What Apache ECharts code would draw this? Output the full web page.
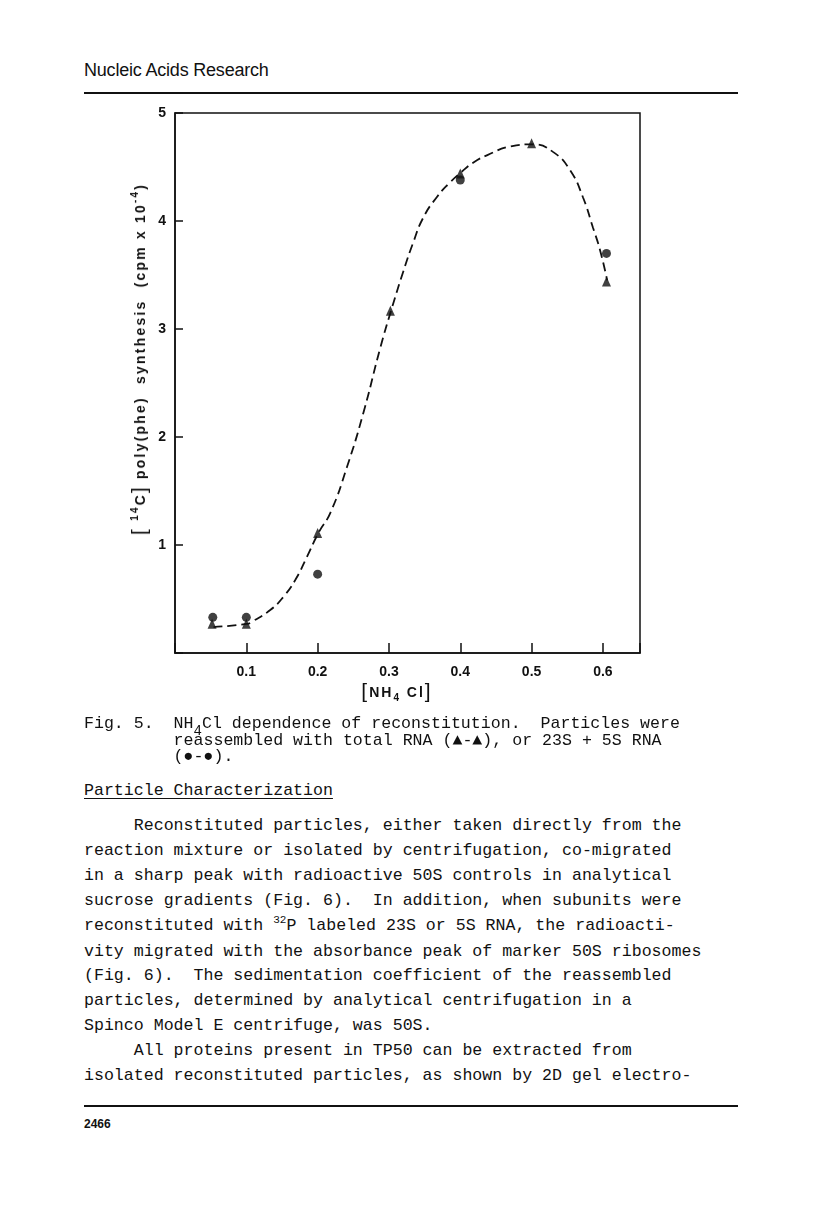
<!DOCTYPE html>
<html>
<head>
<meta charset="utf-8">
<script src="https://cdn.jsdelivr.net/npm/echarts@6/dist/echarts.min.js"></script>
<style>
html,body{margin:0;padding:0;background:#fff;}
#page{position:relative;width:816px;height:1219px;overflow:hidden;background:#fff;}
#chart{position:absolute;left:0;top:0;width:816px;height:760px;}
.t{position:absolute;color:#111;}
.hdr{left:84px;top:60px;font-family:"Liberation Sans",Arial,sans-serif;font-size:18px;letter-spacing:-0.2px;}
.rule{position:absolute;left:84px;width:654px;height:2px;background:#111;}
.mono{font-family:"Liberation Mono","DejaVu Sans Mono",monospace;font-size:16.6px;white-space:pre;}
.cap{left:84px;top:716px;line-height:16.5px;}
.sec{left:84px;top:781px;line-height:20px;text-decoration:underline;text-underline-offset:3px;}
.body{left:84px;top:814px;line-height:24.9px;}
.pg{left:84px;top:1117px;font-family:"Liberation Sans",Arial,sans-serif;font-size:12px;font-weight:bold;}
.sub4{position:relative;top:7px;font-size:14px;}
sup{font-size:11px;vertical-align:0;position:relative;top:-7px;}
.ax{position:absolute;font-family:"Liberation Sans",Arial,sans-serif;font-weight:bold;font-size:14px;color:#111;white-space:pre;line-height:20px;}
.ax .br{font-weight:normal;font-size:21px;position:relative;top:1px;}
.ax .up{font-size:10px;position:relative;top:-7px;}
.ax .dn{font-size:10px;position:relative;top:4px;}
#ytitle{left:140px;top:359px;transform:translate(-50%,-50%) rotate(-90deg);letter-spacing:2.2px;}
#xtitle{left:397px;top:692px;transform:translate(-50%,-50%);letter-spacing:2px;}
</style>
</head>
<body>
<div id="page">
<div class="t hdr">Nucleic Acids Research</div>
<div class="rule" style="top:92px;"></div>
<div id="chart"></div>
<div class="ax" id="ytitle"><span class="br">[</span> <span class="up">14</span>C<span class="br">]</span> poly(phe)  synthesis  (cpm x 10<span class="up">-4</span>)</div>
<div class="ax" id="xtitle"><span class="br">[</span>NH<span class="dn">4</span> Cl<span class="br">]</span></div>
<div class="t mono cap">Fig. 5.  NH<span class="sub4">4</span>Cl dependence of reconstitution.  Particles were
         reassembled with total RNA (▲-▲), or 23S + 5S RNA
         (●-●).</div>
<div class="t mono sec">Particle Characterization</div>
<div class="t mono body">     Reconstituted particles, either taken directly from the
reaction mixture or isolated by centrifugation, co-migrated
in a sharp peak with radioactive 50S controls in analytical
sucrose gradients (Fig. 6).  In addition, when subunits were
reconstituted with <sup>32</sup>P labeled 23S or 5S RNA, the radioacti-
vity migrated with the absorbance peak of marker 50S ribosomes
(Fig. 6).  The sedimentation coefficient of the reassembled
particles, determined by analytical centrifugation in a
Spinco Model E centrifuge, was 50S.
     All proteins present in TP50 can be extracted from
isolated reconstituted particles, as shown by 2D gel electro-</div>
<div class="rule" style="top:1105px;"></div>
<div class="t pg">2466</div>
</div>
<script>
// NH4Cl concentration (x) and poly(phe) synthesis (cpm x 10^-4)
const triX = [0.052, 0.100, 0.200, 0.302, 0.400, 0.500, 0.605];
const triY = [0.27, 0.27, 1.11, 3.17, 4.44, 4.72, 3.44];
const cirX = [0.053, 0.100, 0.200, 0.400, 0.605];
const cirY = [0.33, 0.33, 0.73, 4.38, 3.70];
// hand-drawn dashed fit curve
const curveX = [0.054, 0.101, 0.108, 0.134, 0.152, 0.169, 0.185, 0.201, 0.218, 0.241, 0.264, 0.288, 0.303, 0.320, 0.334, 0.348, 0.367, 0.386, 0.401, 0.418, 0.438, 0.470, 0.502, 0.530, 0.554, 0.572, 0.586, 0.596, 0.606];
const curveY = [0.24, 0.27, 0.29, 0.40, 0.52, 0.68, 0.89, 1.11, 1.30, 1.72, 2.22, 2.83, 3.17, 3.53, 3.80, 4.03, 4.22, 4.36, 4.45, 4.54, 4.61, 4.69, 4.71, 4.64, 4.47, 4.22, 3.94, 3.73, 3.45];
const xTicks = ['0.1', '0.2', '0.3', '0.4', '0.5', '0.6'];
const yTicks = ['1', '2', '3', '4', '5'];

const zip = (a, b) => a.map((v, i) => [v, b[i]]);
const chart = echarts.init(document.getElementById('chart'), null, {renderer: 'canvas'});
const tickFont = {color: '#111', fontFamily: '"Liberation Sans", Arial, sans-serif', fontSize: 14, fontWeight: 'bold'};
chart.setOption({
  animation: false,
  grid: {left: 175, top: 113, width: 465, height: 540, show: true, borderColor: '#111', borderWidth: 1.5, backgroundColor: 'transparent'},
  xAxis: {
    type: 'value', min: 0, max: 0.652, interval: 0.1,
    axisLine: {show: true, onZero: false, lineStyle: {color: '#111', width: 1.5}},
    axisTick: {show: true, inside: true, length: 10, lineStyle: {color: '#111', width: 1.5}},
    splitLine: {show: false},
    axisLabel: Object.assign({margin: 12, formatter: function (v) {
      const k = Math.round(v * 10);
      if (Math.abs(v * 10 - k) > 1e-6 || k < 1 || k > xTicks.length) return '';
      return xTicks[k - 1];
    }}, tickFont)
  },
  yAxis: {
    type: 'value', min: 0, max: 5, interval: 1,
    axisLine: {show: true, lineStyle: {color: '#111', width: 1.5}},
    axisTick: {show: true, inside: true, length: 8, lineStyle: {color: '#111', width: 1.5}},
    splitLine: {show: false},
    axisLabel: Object.assign({margin: 9, formatter: function (v) {
      const k = Math.round(v);
      if (k < 1 || k > yTicks.length) return '';
      return yTicks[k - 1];
    }}, tickFont)
  },
  series: [
    {type: 'line', data: zip(curveX, curveY), smooth: 0.5, symbol: 'none', silent: true,
      lineStyle: {color: '#111', width: 1.8, type: [9, 5]}, z: 2},
    {type: 'scatter', data: zip(cirX, cirY), symbol: 'circle', symbolSize: 9,
      itemStyle: {color: '#111'}, z: 3},
    {type: 'scatter', data: zip(triX, triY), symbol: 'triangle', symbolSize: [9, 10],
      itemStyle: {color: '#111'}, z: 4}
  ]
});
</script>
</body>
</html>
